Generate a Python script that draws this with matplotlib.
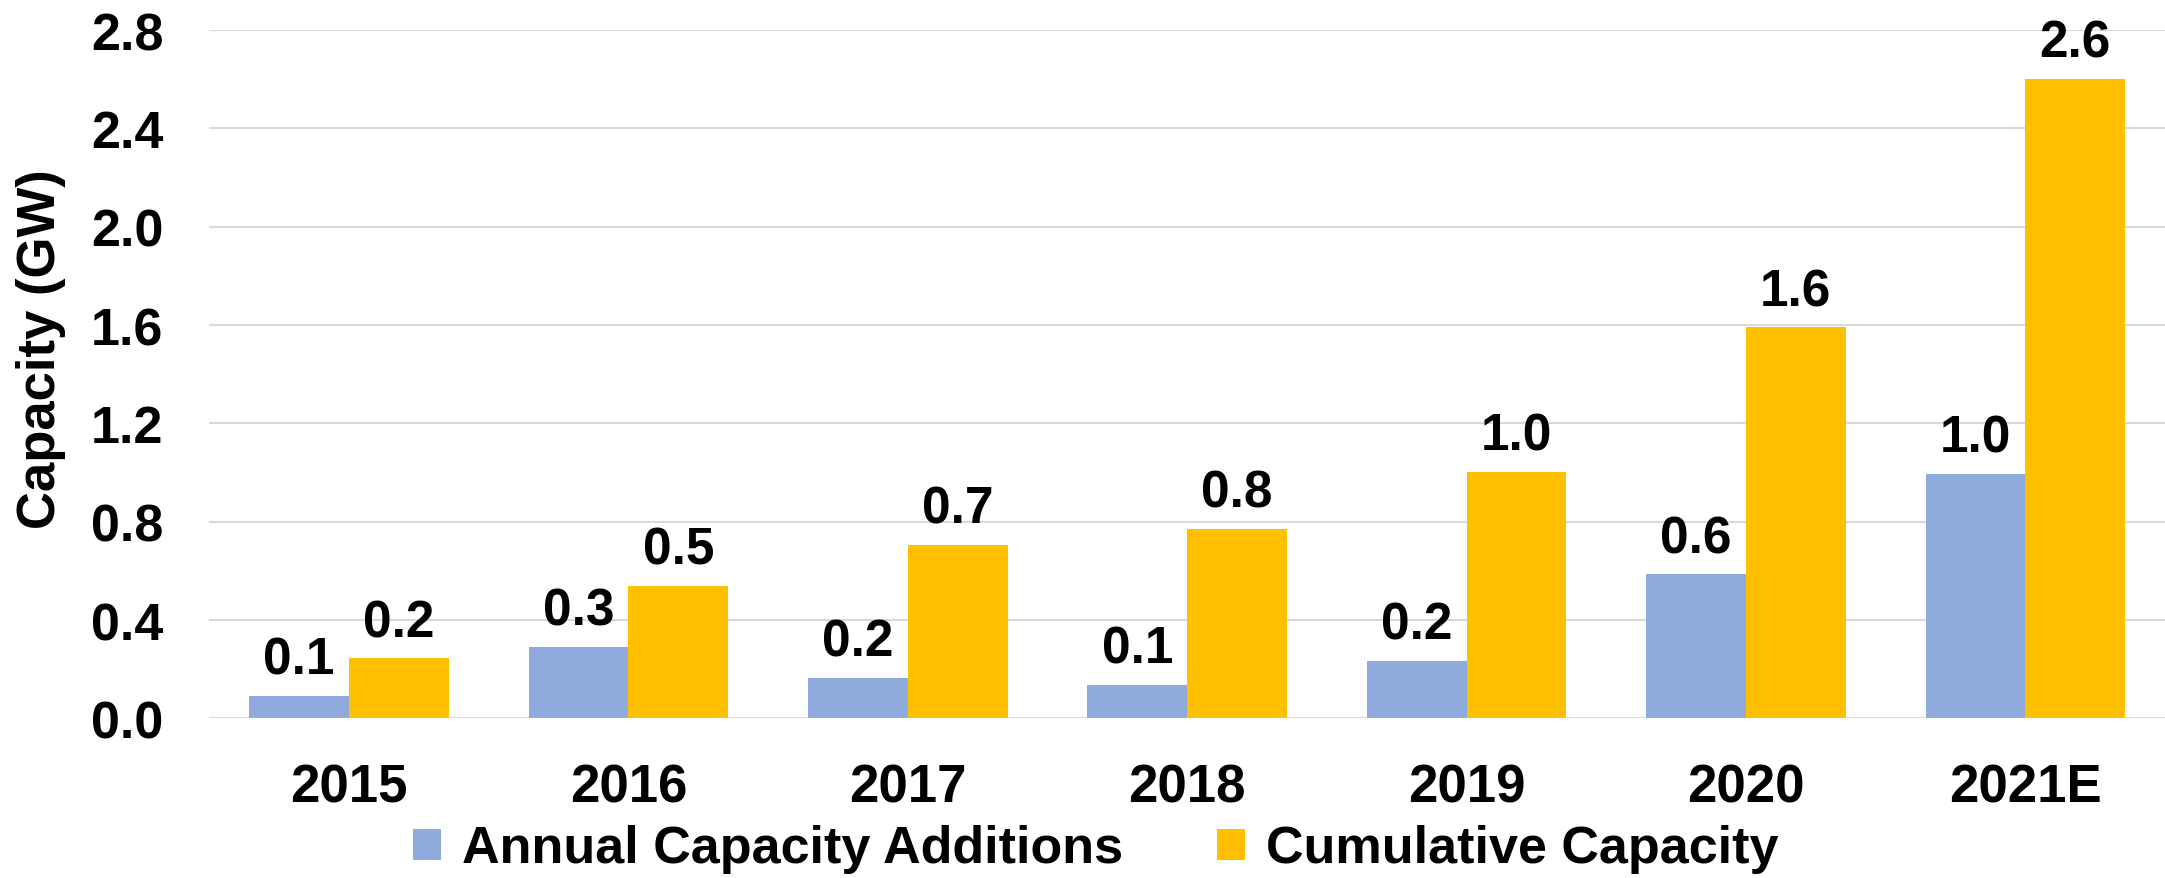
import numpy as np
import matplotlib.pyplot as plt

plt.rcParams['font.family'] = ['Liberation Sans', 'DejaVu Sans']
plt.rcParams['font.weight'] = 'bold'

# данные
years = ["2015", "2016", "2017", "2018", "2019", "2020", "2021E"]
annual = [0.093, 0.292, 0.164, 0.136, 0.233, 0.586, 0.996]
cumulative = [0.244, 0.538, 0.705, 0.770, 1.003, 1.591, 2.600]
yticks = [0.0, 0.4, 0.8, 1.2, 1.6, 2.0, 2.4, 2.8]

blue = "#8FAADC"
gold = "#FFC000"

fig = plt.figure(figsize=(21.65, 8.79), dpi=100)
ax = fig.add_axes([0.0967, 0.1815, 0.9033, 0.7832])

x = np.arange(len(years))
w = 0.357
b1 = ax.bar(x - w / 2, annual, w, color=blue, label="Annual Capacity Additions", zorder=2)
b2 = ax.bar(x + w / 2, cumulative, w, color=gold, label="Cumulative Capacity", zorder=2)

# подписи над столбиками
for bars, vals in [(b1, annual), (b2, cumulative)]:
    for r, v in zip(bars, vals):
        ax.annotate(f"{v:.1f}", (r.get_x() + r.get_width() / 2, r.get_height()),
                    xytext=(0, 16), textcoords="offset points",
                    ha="center", va="baseline", fontsize=37, fontweight="bold",
                    annotation_clip=False)

ax.set_xlim(-0.5, len(years) - 0.5)
ax.set_ylim(0, 2.8)
ax.set_yticks(yticks)
ax.set_yticklabels([f"{t:.1f}" for t in yticks])
ax.set_xticks(x)
ax.set_xticklabels(years)
ax.tick_params(axis="y", length=0, pad=33, labelsize=37.5)
ax.tick_params(axis="x", length=0, pad=32, labelsize=38)
for lab in ax.get_xticklabels() + ax.get_yticklabels():
    lab.set_fontweight("bold")

ax.grid(axis="y", color="#D9D9D9", linewidth=1.5, zorder=0)
for s in ax.spines.values():
    s.set_visible(False)

fig.text(41 / 2165, 0.603, "Capacity (GW)", rotation=90, ha="center", va="center",
         fontsize=38, fontweight="bold")

fig.legend(loc="center", bbox_to_anchor=(0.506, 0.033), ncol=2, frameon=False,
           fontsize=37.5, handlelength=0.54, handleheight=0.54,
           handletextpad=0.4, columnspacing=1.8, borderpad=0)

fig.savefig("out.png", dpi=100)
